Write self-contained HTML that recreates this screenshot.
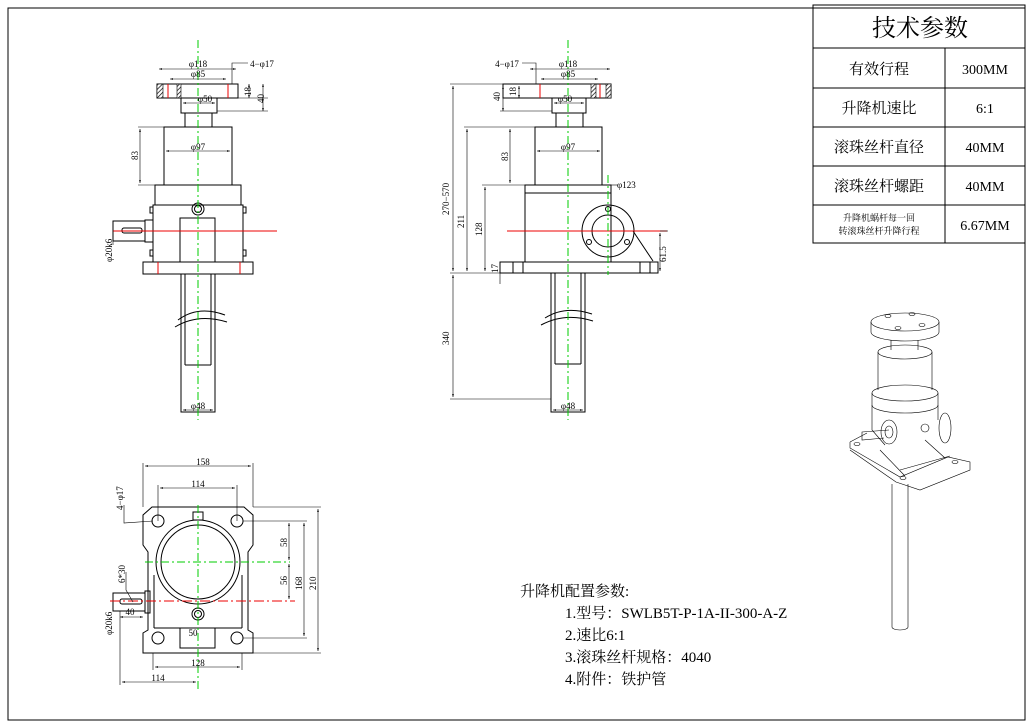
<!DOCTYPE html>
<html><head><meta charset="utf-8"><style>
html,body{margin:0;padding:0;background:#fff;}
svg{display:block;}
text{font-family:"Liberation Serif","Noto Serif CJK SC",serif;fill:#000;}
.d{font-size:9px;}
.s{stroke:#000;fill:none;stroke-width:1;}
.t{stroke:#000;fill:none;stroke-width:.6;}
.g{stroke:#0c0;stroke-width:1;stroke-dasharray:8 3 2 3;fill:none;}
.r{stroke:#e00;stroke-width:1;fill:none;}
</style></head><body>
<svg width="1032" height="725" viewBox="0 0 1032 725" xmlns="http://www.w3.org/2000/svg">
<defs><marker id="a" markerWidth="6" markerHeight="6" refX="5" refY="3" orient="auto-start-reverse"><path d="M0,1.5 L5,3 L0,4.5" fill="#000"/></marker>
<pattern id="h" width="3" height="3" patternUnits="userSpaceOnUse" patternTransform="rotate(45)"><rect width="3" height="3" fill="#fff"/><line x1="0" y1="0" x2="0" y2="3" stroke="#000" stroke-width="1.4"/></pattern></defs>
<rect x="8" y="8" width="1017" height="712" class="s"/>
<!-- table -->
<rect x="813" y="5" width="212" height="238" class="s" fill="#fff"/>
<g class="s"><line x1="813" y1="48" x2="1025" y2="48"/><line x1="813" y1="88" x2="1025" y2="88"/><line x1="813" y1="127" x2="1025" y2="127"/><line x1="813" y1="166" x2="1025" y2="166"/><line x1="813" y1="205" x2="1025" y2="205"/><line x1="945" y1="48" x2="945" y2="243"/></g>
<g text-anchor="middle">
<text x="920" y="36" font-size="24">技术参数</text>
<text x="879" y="74" font-size="15">有效行程</text>
<text x="879" y="113" font-size="15">升降机速比</text>
<text x="879" y="152" font-size="15">滚珠丝杆直径</text>
<text x="879" y="191" font-size="15">滚珠丝杆螺距</text>
<text x="879" y="221" font-size="9">升降机蜗杆每一回</text>
<text x="879" y="234" font-size="9">转滚珠丝杆升降行程</text>
</g>
<g text-anchor="middle" font-size="14"><text x="985" y="74">300MM</text><text x="985" y="113">6:1</text><text x="985" y="152">40MM</text><text x="985" y="191">40MM</text><text x="985" y="230">6.67MM</text></g>

<!-- LEFT VIEW -->
<g class="s">
<rect x="157" y="84" width="81" height="14"/>
<rect x="181" y="98" width="36" height="15"/>
<rect x="185" y="113" width="27" height="14"/>
<rect x="164" y="127" width="68" height="58"/>
<rect x="155" y="185" width="86" height="20"/>
<rect x="153" y="205" width="90" height="57"/>
<rect x="180" y="218" width="35" height="44"/>
<circle cx="198" cy="209" r="6"/><circle cx="198" cy="209" r="3.5"/>
<rect x="145" y="220" width="8" height="22"/>
<rect x="113" y="221" width="32" height="20"/>
<rect x="122" y="228" width="20" height="5" rx="2"/>
<rect x="143" y="262" width="110" height="12"/>
<rect x="181" y="274" width="34" height="138"/>
<line x1="185" y1="274" x2="185" y2="365"/><line x1="211" y1="274" x2="211" y2="365"/><line x1="185" y1="365" x2="211" y2="365"/>
<path d="M178,320 Q198,305 225,315"/><path d="M175,327 Q198,313 227,322"/>
<rect x="150" y="207" width="3" height="6"/><rect x="150" y="250" width="3" height="6"/><rect x="243" y="207" width="3" height="6"/><rect x="243" y="250" width="3" height="6"/>
</g>
<rect x="157" y="84" width="6" height="14" fill="url(#h)" stroke="#000" stroke-width=".6"/><rect x="177" y="84" width="4" height="14" fill="url(#h)" stroke="#000" stroke-width=".6"/>
<g class="r"><line x1="168" y1="84" x2="168" y2="98"/><line x1="228" y1="84" x2="228" y2="98"/><line x1="158" y1="262" x2="158" y2="274"/><line x1="240" y1="262" x2="240" y2="274"/><line x1="113" y1="231" x2="277" y2="231"/></g>
<line x1="198" y1="40" x2="198" y2="420" class="g"/>
<g class="t" marker-start="url(#a)" marker-end="url(#a)">
<line x1="159" y1="69" x2="236" y2="69"/><line x1="170" y1="79" x2="226" y2="79"/><line x1="183" y1="103" x2="215" y2="103"/><line x1="166" y1="151" x2="230" y2="151"/>
<line x1="140" y1="129" x2="140" y2="183"/><line x1="249" y1="84" x2="249" y2="98"/><line x1="263" y1="84" x2="263" y2="111"/><line x1="183" y1="410" x2="213" y2="410"/>
</g>
<g class="t"><polyline points="232,84 232,63 248,63"/><line x1="238" y1="98" x2="268" y2="98"/><line x1="217" y1="111" x2="268" y2="111"/><line x1="138" y1="127" x2="164" y2="127"/><line x1="138" y1="185" x2="164" y2="185"/><line x1="113" y1="221" x2="113" y2="245"/></g>
<g class="d" text-anchor="middle"><text x="198" y="67">φ118</text><text x="198" y="77">φ85</text><text x="205" y="102">φ50</text><text x="198" y="150">φ97</text><text x="198" y="409">φ48</text><text x="262" y="67">4−φ17</text></g>
<text class="d" transform="translate(138,160) rotate(-90)">83</text>
<text class="d" transform="translate(251,96) rotate(-90)">18</text>
<text class="d" transform="translate(264,103) rotate(-90)">40</text>
<text class="d" transform="translate(112,262) rotate(-90)">φ20k6</text>

<!-- MIDDLE VIEW -->
<g class="s">
<rect x="503" y="84" width="108" height="14"/>
<rect x="552" y="98" width="34" height="15"/>
<rect x="556" y="113" width="27" height="14"/>
<rect x="535" y="127" width="67" height="58"/>
<rect x="525" y="185" width="86" height="8"/>
<polyline points="525,193 525,262 611,262 611,193"/>
<rect x="500" y="262" width="158" height="11"/>
<circle cx="608" cy="231" r="26"/><circle cx="608" cy="231" r="16"/>
<circle cx="608" cy="209" r="2.5"/><circle cx="589" cy="242" r="2.5"/><circle cx="627" cy="242" r="2.5"/>
<line x1="633" y1="231" x2="653" y2="261"/>
<rect x="551" y="273" width="34" height="139"/>
<line x1="555" y1="273" x2="555" y2="364"/><line x1="581" y1="273" x2="581" y2="364"/><line x1="555" y1="364" x2="581" y2="364"/>
<path d="M545,318 Q565,305 592,314"/><path d="M541,325 Q565,312 593,321"/>
<line x1="513" y1="262" x2="513" y2="273"/><line x1="523" y1="262" x2="523" y2="273"/><line x1="640" y1="262" x2="640" y2="273"/><line x1="650" y1="262" x2="650" y2="273"/>
</g>
<rect x="591" y="84" width="5" height="14" fill="url(#h)" stroke="#000" stroke-width=".6"/><rect x="606" y="84" width="5" height="14" fill="url(#h)" stroke="#000" stroke-width=".6"/>
<g class="r"><line x1="540" y1="84" x2="540" y2="98"/><line x1="600" y1="84" x2="600" y2="98"/><line x1="507" y1="231" x2="667" y2="231"/></g>
<line x1="568" y1="40" x2="568" y2="420" class="g"/>
<line x1="608" y1="175" x2="608" y2="275" class="g"/>
<g class="t" marker-start="url(#a)" marker-end="url(#a)">
<line x1="530" y1="69" x2="610" y2="69"/><line x1="541" y1="79" x2="598" y2="79"/><line x1="554" y1="103" x2="584" y2="103"/><line x1="537" y1="151" x2="600" y2="151"/>
<line x1="453" y1="86" x2="453" y2="271"/><line x1="453" y1="275" x2="453" y2="397"/><line x1="467" y1="129" x2="467" y2="271"/><line x1="485" y1="187" x2="485" y2="271"/><line x1="510" y1="129" x2="510" y2="183"/>
<line x1="503" y1="86" x2="503" y2="111"/><line x1="519" y1="86" x2="519" y2="98"/><line x1="553" y1="410" x2="583" y2="410"/><line x1="660" y1="233" x2="660" y2="271"/>
</g>
<g class="t"><line x1="450" y1="84" x2="503" y2="84"/><line x1="450" y1="273" x2="500" y2="273"/><line x1="450" y1="399" x2="551" y2="399"/><line x1="464" y1="127" x2="535" y2="127"/><line x1="482" y1="185" x2="525" y2="185"/><line x1="500" y1="111" x2="552" y2="111"/><line x1="515" y1="98" x2="503" y2="98"/>
<polyline points="536,84 536,63 522,63"/><line x1="611" y1="185" x2="618" y2="185"/><line x1="500" y1="262" x2="500" y2="284"/><line x1="660" y1="231" x2="668" y2="231"/></g>
<g class="d" text-anchor="middle"><text x="568" y="67">φ118</text><text x="568" y="77">φ85</text><text x="565" y="102">φ50</text><text x="568" y="150">φ97</text><text x="568" y="409">φ48</text><text x="507" y="67">4−φ17</text></g>
<text class="d" x="617" y="188">φ123</text>
<text class="d" transform="translate(449,215) rotate(-90)">270−570</text>
<text class="d" transform="translate(449,345) rotate(-90)">340</text>
<text class="d" transform="translate(464,228) rotate(-90)">211</text>
<text class="d" transform="translate(482,236) rotate(-90)">128</text>
<text class="d" transform="translate(508,161) rotate(-90)">83</text>
<text class="d" transform="translate(500,101) rotate(-90)">40</text>
<text class="d" transform="translate(516,96) rotate(-90)">18</text>
<text class="d" transform="translate(498,273) rotate(-90)">17</text>
<text class="d" transform="translate(666,262) rotate(-90)">61.5</text>

<!-- BOTTOM VIEW -->
<g class="s">
<path d="M152,507 L244,507 L253,515 L253,545 L248,552 L248,630 L253,633 L253,653 L143,653 L143,633 L148,630 L148,552 L143,545 L143,515 Z"/>
<circle cx="198" cy="562" r="42"/><circle cx="198" cy="562" r="37"/>
<circle cx="158" cy="521" r="6"/><circle cx="237" cy="521" r="6"/><circle cx="158" cy="638" r="6"/><circle cx="237" cy="638" r="6"/>
<circle cx="198" cy="614" r="6"/><circle cx="198" cy="614" r="3.5"/>
<rect x="180" y="628" width="35" height="20"/>
<rect x="193" y="512" width="10" height="8"/>
<line x1="154" y1="575" x2="154" y2="628"/><line x1="242" y1="575" x2="242" y2="628"/><line x1="154" y1="628" x2="242" y2="628"/>
<rect x="113" y="593" width="32" height="18"/><rect x="120" y="599" width="22" height="5" rx="2"/><rect x="145" y="591" width="5" height="22"/>
</g>
<line x1="110" y1="601" x2="295" y2="601" class="r" stroke-dasharray="10 3 2 3"/>
<line x1="145" y1="562" x2="290" y2="562" class="g"/>
<line x1="198" y1="505" x2="198" y2="690" class="g"/>
<g class="t" marker-start="url(#a)" marker-end="url(#a)">
<line x1="145" y1="466" x2="251" y2="466"/><line x1="160" y1="488" x2="235" y2="488"/><line x1="318" y1="509" x2="318" y2="651"/><line x1="304" y1="523" x2="304" y2="636"/><line x1="289" y1="523" x2="289" y2="560"/><line x1="289" y1="564" x2="289" y2="599"/><line x1="155" y1="667" x2="240" y2="667"/><line x1="122" y1="682" x2="196" y2="682"/><line x1="120" y1="617" x2="143" y2="617"/>
</g>
<g class="t"><line x1="143" y1="463" x2="143" y2="507"/><line x1="253" y1="463" x2="253" y2="507"/><line x1="158" y1="485" x2="158" y2="521"/><line x1="237" y1="485" x2="237" y2="521"/><line x1="253" y1="507" x2="321" y2="507"/><line x1="253" y1="653" x2="321" y2="653"/><line x1="243" y1="521" x2="307" y2="521"/><line x1="243" y1="638" x2="307" y2="638"/><line x1="153" y1="653" x2="153" y2="670"/><line x1="242" y1="653" x2="242" y2="670"/><line x1="120" y1="611" x2="120" y2="685"/><polyline points="153,521 124,523 124,505"/><polyline points="133,602 126,590 126,572"/></g>
<g class="d" text-anchor="middle"><text x="203" y="465">158</text><text x="198" y="487">114</text><text x="198" y="666">128</text><text x="158" y="681">114</text><text x="130" y="615">40</text><text x="193" y="636">50</text></g>
<text class="d" transform="translate(123,510) rotate(-90)">4−φ17</text>
<text class="d" transform="translate(125,583) rotate(-90)">6*30</text>
<text class="d" transform="translate(112,635) rotate(-90)">φ20k6</text>
<text class="d" transform="translate(287,547) rotate(-90)">58</text>
<text class="d" transform="translate(287,585) rotate(-90)">56</text>
<text class="d" transform="translate(302,590) rotate(-90)">168</text>
<text class="d" transform="translate(316,590) rotate(-90)">210</text>

<!-- config text -->
<g font-size="15">
<text x="520" y="596">升降机配置参数:</text>
<text x="565" y="618">1.型号：SWLB5T-P-1A-II-300-A-Z</text>
<text x="565" y="640">2.速比6:1</text>
<text x="565" y="662">3.滚珠丝杆规格：4040</text>
<text x="565" y="684">4.附件：铁护管</text>
</g>

<!-- 3D view -->
<g class="t" stroke-width="0.9">
<ellipse cx="905" cy="322" rx="34" ry="9"/><path d="M871,322 L871,332 A34,9 0 0 0 939,332 L939,322"/>
<ellipse cx="888" cy="316" rx="3" ry="1.5"/><ellipse cx="912" cy="314" rx="3" ry="1.5"/><ellipse cx="922" cy="325" rx="3" ry="1.5"/><ellipse cx="898" cy="328" rx="3" ry="1.5"/>
<path d="M891,340 L891,350 M918,340 L918,350"/>
<ellipse cx="905" cy="352" rx="27" ry="7"/>
<path d="M878,352 L878,390 M932,352 L932,390"/>
<ellipse cx="905" cy="393" rx="33" ry="8"/><path d="M872,393 L872,405 A33,8 0 0 0 938,405 L938,393"/>
<path d="M872,405 L872,430 L885,445 M938,405 L938,420"/>
<ellipse cx="945" cy="428" rx="6" ry="15"/>
<ellipse cx="889" cy="432" rx="8" ry="12"/><ellipse cx="889" cy="432" rx="4" ry="6"/>
<path d="M889,430 L862,432 L862,440 L884,438"/>
<circle cx="925" cy="428" r="4"/>
<path d="M850,442 L867,433 M850,442 L850,448 L900,477 L948,457 L970,462 L970,470 L920,490 L896,482 L850,450"/>
<path d="M900,470 L950,456 M880,450 L905,476 M925,440 L945,458"/>
<ellipse cx="857" cy="444" rx="3" ry="1.5"/><ellipse cx="955" cy="462" rx="3" ry="1.5"/><ellipse cx="903" cy="478" rx="3" ry="1.5"/>
<path d="M892,484 L892,627 A8,3 0 0 0 908,627 L908,484"/>
</g>
</svg>
</body></html>
